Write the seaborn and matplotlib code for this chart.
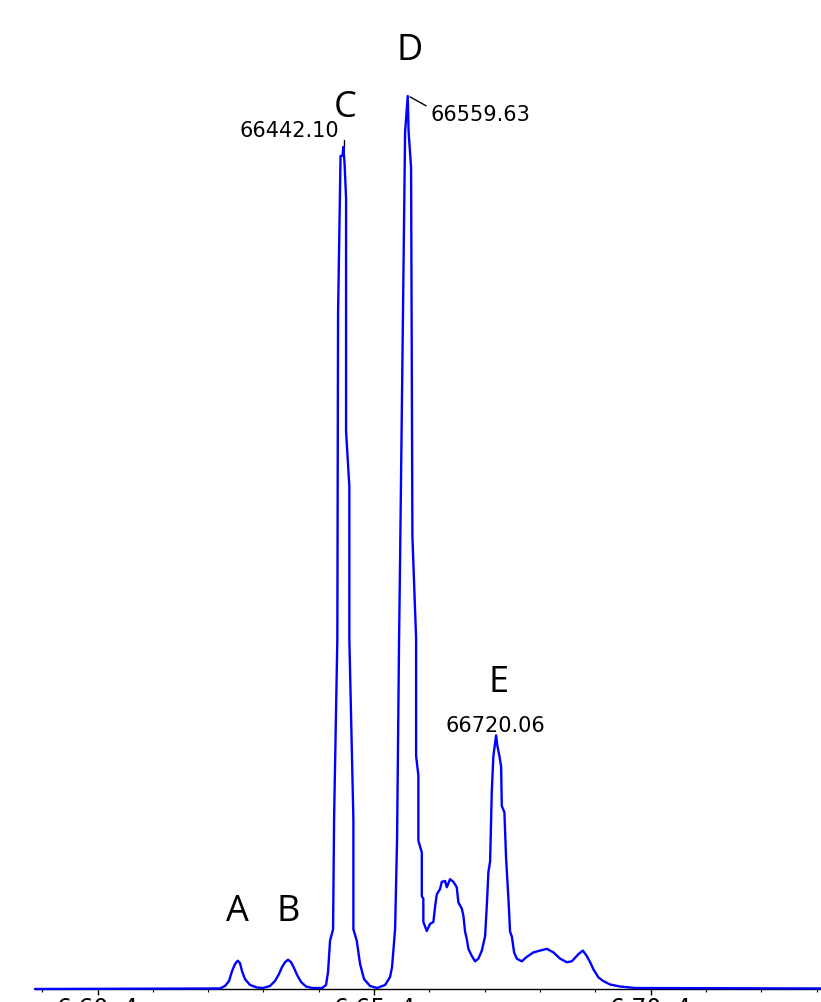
import matplotlib
matplotlib.use("Agg")
import matplotlib.pyplot as plt
from matplotlib.ticker import MultipleLocator, FuncFormatter
import seaborn as sns
import pandas as pd

# Deconvoluted mass spectrum trace (mass in Da, intensity in % of highest peak)
mass = [65887, 66221.5, 66230.6, 66237.8, 66243.2, 66248.6, 66253.5, 66257.6, 66261.3,
        66266.7, 66275.8, 66288.4, 66299.3, 66311.9, 66320.9, 66328.1, 66333.6, 66339.0,
        66344.5, 66349.9, 66355.3, 66360.8, 66368.0, 66377.0, 66387.9, 66406.0, 66413.2,
        66416.8, 66420.4, 66425.9, 66427.7, 66433.6, 66434.9, 66439.4, 66443.0, 66444.5,
        66446.7, 66449.4, 66449.4, 66455.3, 66455.3, 66462.6, 66462.6, 66468.7, 66474.7,
        66481.9, 66492.8, 66505.4, 66519.9, 66528.9, 66532.5, 66538.0, 66541.6, 66545.2,
        66547.0, 66556.1, 66560.9, 66562.4, 66566.9, 66569.3, 66576.0, 66576.0, 66580.1,
        66580.1, 66586.3, 66586.3, 66589.1, 66589.1, 66595.3, 66601.3, 66607.2, 66610.3,
        66613.4, 66619.3, 66622.4, 66628.4, 66631.5, 66637.4, 66643.4, 66649.5, 66652.4,
        66658.6, 66661.5, 66664.6, 66667.6, 66670.5, 66676.7, 66682.6, 66688.6, 66694.8,
        66700.7, 66703.8, 66706.7, 66709.8, 66712.8, 66715.7, 66720.6, 66723.0, 66726.6,
        66729.7, 66730.9, 66735.6, 66738.7, 66742.9, 66745.9, 66749.0, 66753.2, 66758.0,
        66767.1, 66776.1, 66788.1, 66800.2, 66812.3, 66824.2, 66836.3, 66848.5, 66857.5,
        66869.4, 66877.4, 66884.6, 66890.6, 66896.6, 66905.6, 66914.1, 66926.8, 66944.8,
        66972.0, 67308]
intensity = [0.0, 0.06, 0.34, 0.9, 2.0, 2.8, 3.17, 2.9, 2.0,
             1.1, 0.45, 0.17, 0.11, 0.34, 0.9, 1.68, 2.46, 3.0,
             3.28, 3.0, 2.35, 1.57, 0.78, 0.28, 0.11, 0.11, 0.45,
             1.9, 5.4, 6.7, 19.0, 39.2, 75.6, 93.3, 93.3, 94.3,
             92.4, 88.5, 62.4, 56.3, 39.2, 19.0, 6.7, 5.4, 2.8,
             1.1, 0.34, 0.11, 0.45, 1.34, 2.46, 6.7, 16.8, 39.2,
             47.9, 96.0, 100.0, 96.0, 92.0, 50.7, 39.2, 26.1, 23.9,
             16.6, 15.3, 10.4, 10.1, 7.5, 6.5, 7.3, 7.5, 9.2,
             10.6, 11.2, 12.0, 12.1, 11.4, 12.3, 12.0, 11.4, 9.7,
             9.0, 8.2, 6.4, 5.6, 4.5, 3.7, 3.1, 3.4, 4.3,
             5.9, 9.3, 13.1, 14.3, 22.1, 26.1, 28.4, 27.2, 26.1,
             24.9, 20.5, 19.8, 14.6, 10.1, 6.4, 5.9, 4.1, 3.4,
             3.1, 3.6, 4.1, 4.3, 4.5, 4.1, 3.4, 3.0, 3.1,
             3.9, 4.3, 3.7, 3.0, 2.2, 1.3, 0.9, 0.5, 0.28,
             0.11, 0.06]

# Peak letters
peak_letters = ["A", "B", "C", "D", "E"]
letter_x = [66253.5, 66344.5, 66448.5, 66565.1, 66724.2]
letter_y = [7.76, 7.76, 97.8, 104.1, 33.4]

# Peak mass labels
mass_labels = ["66442.10", "66559.63", "66720.06"]
mass_label_x = [66346.3, 66691.7, 66718.8]
mass_label_y = [95.5, 97.3, 28.9]

x_limits = (65887, 67308)
y_limits = (0, 110.86)

sns.set_theme(style="white")
plt.rcParams["font.family"] = ["DejaVu Sans"]

fig = plt.figure(figsize=(8.21, 10.03), dpi=100)
ax = fig.add_axes([35 / 821, 13 / 1003, 786 / 821, 990 / 1003])

df = pd.DataFrame({"mass": mass, "intensity": intensity})
sns.lineplot(data=df, x="mass", y="intensity", ax=ax, estimator=None, sort=False,
             color="#0000FF", linewidth=1.7, clip_on=False, zorder=5)

ax.set_xlim(*x_limits)
ax.set_ylim(*y_limits)
ax.set_xlabel("")
ax.set_ylabel("")
ax.set_yticks([])
for s in ["left", "top", "right"]:
    ax.spines[s].set_visible(False)
ax.spines["bottom"].set_color("black")
ax.spines["bottom"].set_linewidth(1.0)

ax.xaxis.set_major_locator(MultipleLocator(500))
ax.xaxis.set_minor_locator(MultipleLocator(100))
ax.xaxis.set_major_formatter(FuncFormatter(lambda v, p: f"{v / 1e4:.2f}e4"))
ax.tick_params(axis="x", which="major", direction="out", length=4.3, width=1.0,
               color="black", bottom=True, pad=0.8, labelsize=17, labelcolor="black")
ax.tick_params(axis="x", which="minor", direction="out", length=2.3, width=0.8,
               color="black", bottom=True)

for t, x, y in zip(peak_letters, letter_x, letter_y):
    ax.text(x, y, t, ha="center", va="baseline", fontsize=26,
            family=["Open Sans", "DejaVu Sans"], color="black")

for t, x, y in zip(mass_labels, mass_label_x, mass_label_y):
    ax.text(x, y, t, ha="center", va="baseline", fontsize=15, color="black")

# leader marks from labels to peaks
ax.plot([66445.7, 66445.7], [95.1, 94.4], color="black", linewidth=1.0)
ax.plot([66565.1, 66594.0], [99.9, 98.9], color="black", linewidth=1.0)

fig.savefig("out.png", dpi=100)
